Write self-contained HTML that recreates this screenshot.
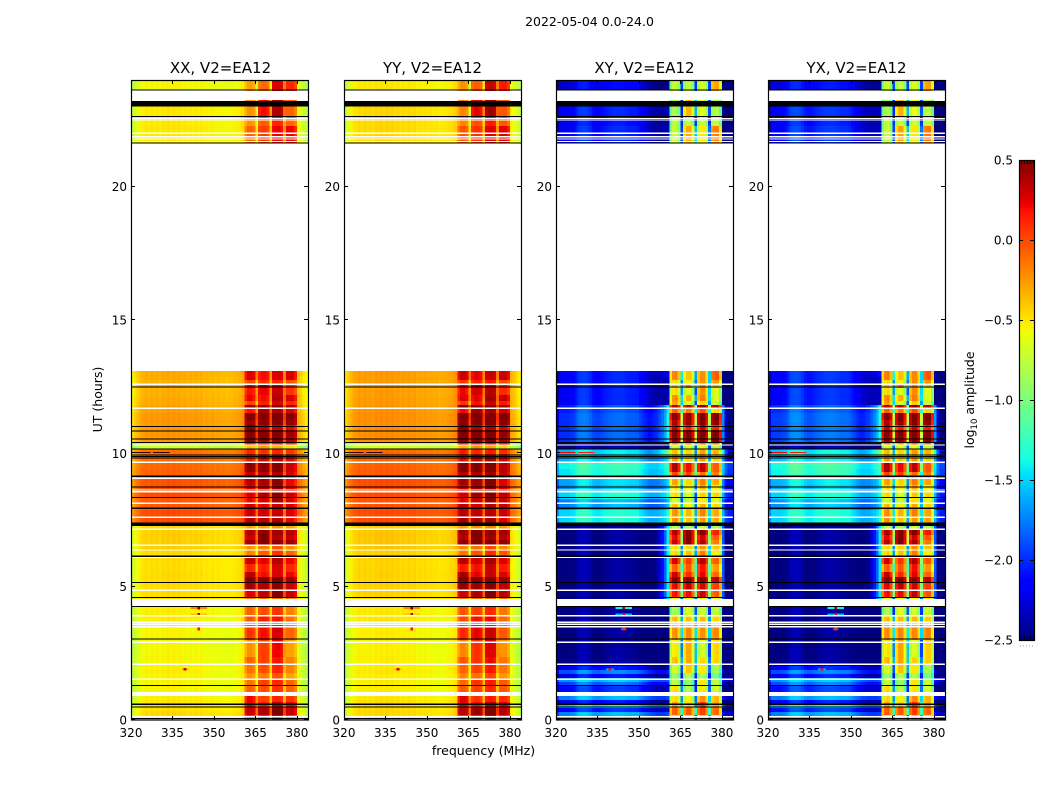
<!DOCTYPE html>
<html>
<head>
<meta charset="utf-8">
<title>2022-05-04 amplitude waterfall</title>
<style>
html,body{margin:0;padding:0;background:#fff;}
svg{display:block;}
text{font-family:"DejaVu Sans","Liberation Sans",sans-serif;fill:#000;}
</style>
</head>
<body>
<svg id="chart" xmlns="http://www.w3.org/2000/svg" width="1050" height="800" viewBox="0 0 1050 800">
  <rect x="0" y="0" width="1050" height="800" fill="#fff"/>
  <text x="589.5" y="26" font-size="12.5" text-anchor="middle">2022-05-04 0.0-24.0</text>
  <text x="220.5" y="73" font-size="15" text-anchor="middle">XX, V2=EA12</text>
  <text x="432.5" y="73" font-size="15" text-anchor="middle">YY, V2=EA12</text>
  <text x="644.5" y="73" font-size="15" text-anchor="middle">XY, V2=EA12</text>
  <text x="856.5" y="73" font-size="15" text-anchor="middle">YX, V2=EA12</text>
  <text transform="translate(102,399.5) rotate(-90)" font-size="12.5" text-anchor="middle">UT (hours)</text>
  <text x="483.5" y="755" font-size="12.5" text-anchor="middle">frequency (MHz)</text>
  <text transform="translate(974,400) rotate(-90)" font-size="12.5" text-anchor="middle">log<tspan font-size="8.5" dy="3">10</tspan><tspan dy="-3"> amplitude</tspan></text>
  <g id="panels"></g>
  <g id="colorbar"></g>
</svg>
<script>
// ---- tick labels ----
const freqTicks = [320, 335, 350, 365, 380];
const utTicks = [0, 5, 10, 15, 20];
const colorbarTicks = [0.5, 0.0, -0.5, -1.0, -1.5, -2.0, -2.5];

// ---- out-of-band time bands (UT hours) ----
const bandStart = [0,.11,.30,.45,.60,.75,.90,1.28,1.43,1.58,1.73,1.88,2.03,2.44,3.00,3.56,4.28,4.88,5.33,5.63,5.89,6.15,6.38,6.71,7.13,7.28,7.88,8.29,8.55,8.81,9.15,9.41,9.68,9.90,10.16,10.39,10.61,11.03,11.14,11.51,11.81,12.19,12.45,12.60,12.86,21.64,22.28,22.61,23.63];
const bandEnd = [.11,.30,.45,.60,.75,.90,1.28,1.43,1.58,1.73,1.88,2.03,2.44,3.00,3.56,4.28,4.88,5.33,5.63,5.89,6.15,6.38,6.71,7.13,7.28,7.88,8.29,8.55,8.81,9.15,9.41,9.68,9.90,10.16,10.39,10.61,11.03,11.14,11.51,11.81,12.19,12.45,12.60,12.86,13.09,22.28,22.61,23.00,24];

// ---- per-band out-of-band log10 amplitude ----
const xxLow = [-.55,-.48,-.5,-.48,-.53,-.55,-.57,-.57,-.56,-.57,-.55,-.56,-.57,-.58,-.57,-.55,-.49,-.49,-.49,-.5,-.5,-.49,-.45,-.45,-.49,-.03,-.07,-.03,-.05,-.05,-.1,-.12,-.14,-.14,-.72,-.27,-.27,-.27,-.27,-.3,-.33,-.35,-.35,-.35,-.33,-.53,-.53,-.53,-.58];
const yyLow = [-.53,-.48,-.48,-.48,-.5,-.53,-.55,-.55,-.54,-.55,-.53,-.54,-.55,-.56,-.55,-.53,-.46,-.46,-.46,-.47,-.47,-.46,-.42,-.42,-.46,-.03,-.05,-.03,-.03,-.03,-.08,-.1,-.12,-.12,-.7,-.24,-.24,-.24,-.24,-.26,-.28,-.29,-.29,-.29,-.28,-.48,-.48,-.48,-.53];
const xyLow = [-2.0,-1.8,-2.2,-1.6,-2.3,-1.8,-2.2,-2.0,-1.75,-2.3,-1.95,-2.3,-2.65,-2.65,-2.65,-2.65,-2.65,-2.65,-2.65,-2.65,-2.65,-2.65,-2.65,-2.65,-2.65,-1.55,-1.8,-1.55,-1.75,-1.7,-1.5,-1.45,-1.65,-1.65,-2.6,-2.05,-2.05,-2.05,-2.05,-2.1,-2.25,-2.25,-2.25,-2.25,-2.25,-2.25,-2.3,-2.25,-2.35];
const yxLow = [-1.95,-1.8,-2.15,-1.6,-2.25,-1.8,-2.15,-1.95,-1.75,-2.25,-1.95,-2.25,-2.65,-2.65,-2.65,-2.65,-2.65,-2.65,-2.65,-2.65,-2.65,-2.65,-2.65,-2.65,-2.65,-1.55,-1.75,-1.55,-1.7,-1.65,-1.45,-1.4,-1.6,-1.6,-2.6,-2.0,-2.0,-2.0,-2.0,-2.05,-2.2,-2.2,-2.2,-2.2,-2.2,-2.2,-2.25,-2.2,-2.3];
const crossEdgeGlow = [0,0,0,0,0,0,0,0,0,0,0,0,0,0,0,0,1.2,1.2,1.2,1.2,1.2,1.2,1.2,1.2,1.2,.3,.3,.3,.3,.3,.3,.3,.3,.7,.2,.7,.7,.7,.7,.7,0,0,0,0,.2,0,0,0,0];

// ---- per-channel out-of-band offsets (1 MHz channels from 320 MHz; null = in-band) ----
const parallelShape = [-.22,-.14,-.08,-.02,0,.03,0,.03,.01,.03,0,.04,.02,.05,.02,.05,.02,.04,.01,.03,0,.02,0,.03,0,.02,-.02,0,-.02,0,-.03,-.01,-.03,-.02,-.04,-.03,-.03,-.01,0,.02,.06,null,null,null,null,null,null,null,null,null,null,null,null,null,null,null,null,null,null,null,-.05,-.1,-.18,-.25];
const crossShape = [-.15,.05,.05,.05,.05,.08,.1,.2,.28,.3,.3,.28,.22,.15,.12,.12,.15,.18,.2,.22,.24,.25,.25,.25,.24,.22,.2,.2,.2,.18,.12,.06,0,-.05,-.1,-.12,-.15,-.15,-.15,-.15,-.1,null,null,null,null,null,null,null,null,null,null,null,null,null,null,null,null,null,null,null,-.3,-.45,-.5,-.5];
const crossEdgeShape = [0,0,0,0,0,0,0,0,0,0,0,0,0,0,0,0,0,0,0,0,0,0,0,0,0,0,0,0,0,0,0,0,0,0,.1,.2,.3,.45,.6,.8,1.1,0,0,0,0,0,0,0,0,0,0,0,0,0,0,0,0,0,0,0,.9,.25,0,0];

// ---- in-band rows (UT hours) with one value per sub-band block ----
const hiStart = [0,.19,.49,.68,1.05,1.28,1.54,1.76,2.06,2.36,3.00,3.49,3.90,4.50,4.61,4.88,5.14,5.36,5.55,5.85,6.11,6.34,6.56,6.75,6.94,7.13,7.39,7.61,7.95,8.14,8.33,8.59,8.81,9.11,9.30,9.68,9.94,10.16,10.31,10.43,10.61,10.88,11.06,11.25,11.51,11.70,11.81,11.96,12.19,12.45,12.60,12.75,21.64,22.28,22.61,23.59];
const hiEnd = [.19,.49,.68,1.05,1.28,1.54,1.76,2.06,2.36,3.00,3.49,3.90,4.50,4.61,4.88,5.14,5.36,5.55,5.85,6.11,6.34,6.56,6.75,6.94,7.13,7.39,7.61,7.95,8.14,8.33,8.59,8.81,9.11,9.30,9.68,9.94,10.16,10.31,10.43,10.61,10.88,11.06,11.25,11.51,11.70,11.81,11.96,12.19,12.45,12.60,12.75,13.09,22.28,22.61,23.25,24];
const parallelBlock1 = [.05,.3,.2,.2,-.1,-.15,-.25,-.15,-.1,-.25,.05,-.05,-.1,-.2,.25,.4,.48,.35,.1,.3,-.2,-.25,.4,.3,.35,-.3,.35,.3,.3,.2,.25,.25,.35,.3,.45,.15,.1,-.4,.1,.48,.48,.48,.42,.48,.15,.42,0,.2,.15,.2,0,.25,-.1,-.25,-.25,-.3];
const parallelBlock2 = [.05,.35,.1,0,-.05,0,-.2,-.05,0,0,.15,.1,-.05,-.2,.3,.35,.48,.15,.1,.2,-.1,-.2,.45,.45,.45,-.3,.3,.25,.2,.25,.35,.3,.35,.3,.42,.2,.05,-.3,.1,.45,.45,.3,.42,.45,.35,.42,.1,.15,.2,.35,.05,.15,0,-.1,.15,-.15];
const parallelBlock3 = [.2,.45,.25,.05,0,.05,-.1,.05,.1,.15,.2,.1,0,-.2,.42,.4,.48,.2,.2,.3,0,-.1,.4,.3,.35,-.3,.3,.25,.25,.35,.42,.35,.4,.3,.42,.25,.05,-.4,.1,.4,.42,.25,.42,.48,.3,.42,.2,.3,.25,.25,.05,.2,.15,.05,.3,.2];
const parallelBlock4 = [.05,.3,.2,.05,-.1,-.1,-.3,-.2,-.2,-.3,-.1,-.15,-.2,-.2,.3,.3,.4,.2,.1,.2,-.1,-.25,.4,.3,.35,-.3,.2,.25,.25,.25,.3,.2,.2,.25,.3,.2,.05,-.5,.1,.35,.4,.2,.42,.48,.25,.35,.1,.25,.05,.1,-.05,.25,.2,-.1,-.1,.1];
const crossBlock1 = [-.7,-.1,-.3,-.5,-.5,-.75,-.9,-.7,-.4,-.55,-.25,-.4,-.85,-.7,.15,.2,.5,.3,-.1,.25,-.5,-.5,.3,.2,.35,-.8,-.25,-.25,-.4,-.7,-.5,-.5,-.3,0,.35,-.3,-.4,-.7,-.2,.45,.48,.3,.35,.48,-.1,.35,-.3,-.25,-.5,-.4,-.5,-.2,-.75,-.8,-.85,-.75];
const crossBlock2 = [-.7,-.1,-.5,-.6,-.85,-.95,-.85,-.45,-.35,-.35,-.25,-.45,-.7,-.7,.15,.3,.5,.05,-.1,0,-.45,-.5,.45,.45,.45,-.9,-.45,-.4,-.6,-.8,-.7,-.6,-.5,0,.15,-.5,-.5,-.7,-.3,.45,.48,.1,.4,.42,-.2,.3,-.7,-.4,-.7,-.2,-.6,-.45,-.35,-.8,-.4,-.8];
const crossBlock3 = [-.5,-.05,0,-.3,-.6,-.6,-.9,-.6,-.55,-.75,-.3,-.45,-.8,-.7,.25,.2,.45,.15,.1,.3,-.25,-.3,.3,.2,.4,-.8,-.35,-.25,-.4,-.6,-.5,-.4,-.25,-.2,.25,-.35,-.35,-.7,-.2,.45,.48,.2,.4,.42,-.1,.45,-.5,-.25,-.3,-.3,-.3,-.3,-.6,-.8,-.7,-.75];
const crossBlock4 = [-.7,-.15,-.35,-.4,-.75,-.8,-1.1,-.9,-.5,-.5,-.25,-.5,-.8,-.7,-.1,0,.3,-.15,-.3,-.1,-.6,-.45,-.2,-.1,.1,-.9,-.35,-.35,-.5,-.7,-.5,-.6,-.35,-.2,-.1,-.5,-.4,-.8,-.2,.48,.48,.1,.4,.45,-.5,.3,-.8,-.7,-.7,-.45,-.3,-.1,-.2,-.8,-.85,-.35];

// ---- per-channel in-band rim and inter-block offsets, channels 41..59 ----
const parallelChannelOffset = [-.08,.03,.03,-.03,-.42,0,.05,.05,0,-.4,.05,.08,.08,.03,-.4,.02,.02,.02,-.08];
const crossChannelOffset = [-.3,0,.05,-.2,-1.2,-.15,.05,.05,-.25,-1.2,-.1,.08,.08,-.2,-1.2,-.05,.05,.05,-.3];
const panelHighBias = [0, .04, 0, .02];

// ---- flagged / missing intervals (UT hours) ----
const gapStart = [.10,.90,1.50,2.06,2.89,3.47,3.57,3.64,3.89,4.28,4.84,6.08,6.35,6.53,7.13,7.58,8.10,8.53,8.60,9.04,9.64,10.29,11.67,12.56,13.09,21.67,21.76,21.85,21.98,22.48,22.54,23.25];
const gapEnd = [.15,1.05,1.55,2.11,2.94,3.52,3.61,3.69,3.94,4.53,4.89,6.13,6.40,6.58,7.18,7.63,8.15,8.58,8.65,9.09,9.69,10.34,11.72,12.61,21.64,21.71,21.80,21.90,22.03,22.52,22.58,23.59];
const blackStart = [.03,.46,.57,1.28,3.01,4.24,4.58,5.14,6.12,7.28,7.92,8.33,8.71,9.12,9.81,9.87,9.92,10.14,10.39,10.51,10.81,10.99,12.46,21.62,22.61,23.00,23.61];
const blackEnd = [.07,.50,.61,1.32,3.05,4.28,4.62,5.18,6.16,7.40,7.96,8.37,8.75,9.16,9.85,9.90,9.96,10.18,10.43,10.55,10.85,11.03,12.50,21.66,22.65,23.22,23.65];

// ---- narrow-band interference ----
const spotFreq = [344.5, 344.5, 344.5, 339.5];
const spotUT = [4.20, 3.96, 3.41, 1.90];
const spotHalfWidth = [3, 3, 1, 1.5];
const spotPeak = [.5, .3, .2, .3];
const dashStart = [321.5, 328];
const dashEnd = [327, 334];
const dashUT = [10.03, 10.03];
const dashValue = [.5, .45];

// ---- panels ----
const panelKeys = ['xx', 'yy', 'xy', 'yx'];
const panelLow = [xxLow, yyLow, xyLow, yxLow];
const panelCross = [false, false, true, true];
const parallelBlocks = [parallelBlock1, parallelBlock2, parallelBlock3, parallelBlock4];
const crossBlocks = [crossBlock1, crossBlock2, crossBlock3, crossBlock4];

const NS = 'http://www.w3.org/2000/svg';
const VMIN = -2.5, VMAX = 0.5;
const AXIS_TOP = 80, AXIS_BOTTOM = 720, AXIS_WIDTH = 177;
const AXIS_LEFT = [131, 344, 556, 768];
const F_MIN = 320, F_MAX = 384, UT_MAX = 24;
const FIRST_BLOCK_CH = 41, LAST_BLOCK_CH = 59;
const CB_LEFT = 1019, CB_RIGHT = 1034, CB_TOP = 160, CB_BOTTOM = 640;

function interp(x, xs, ys) {
  if (x <= xs[0]) return ys[0];
  for (let i = 1; i < xs.length; i++) {
    if (x <= xs[i]) return ys[i-1] + (ys[i]-ys[i-1]) * (x-xs[i-1]) / (xs[i]-xs[i-1]);
  }
  return ys[ys.length-1];
}
function jet(v) {
  const t = Math.max(0, Math.min(1, (v - VMIN) / (VMAX - VMIN)));
  const r = interp(t, [0,.35,.66,.89,1], [0,0,1,1,.5]);
  const g = interp(t, [0,.125,.375,.64,.91,1], [0,0,1,1,0,0]);
  const b = interp(t, [0,.11,.34,.65,1], [.5,1,1,0,0]);
  return 'rgb(' + Math.round(r*255) + ',' + Math.round(g*255) + ',' + Math.round(b*255) + ')';
}
function xScale(panel, mhz) { return AXIS_LEFT[panel] + (mhz - F_MIN) / (F_MAX - F_MIN) * AXIS_WIDTH; }
function yScale(ut) { return AXIS_BOTTOM - ut / UT_MAX * (AXIS_BOTTOM - AXIS_TOP); }
function cbScale(v) { return CB_BOTTOM - (v - VMIN) / (VMAX - VMIN) * (CB_BOTTOM - CB_TOP); }

function make(tag, parent, attrs) {
  const el = document.createElementNS(NS, tag);
  for (const k in attrs) el.setAttribute(k, attrs[k]);
  parent.appendChild(el);
  return el;
}
function box(parent, x0, x1, y0, y1, fill) {
  return make('rect', parent, {x: x0, y: Math.min(y0, y1), width: x1 - x0, height: Math.max(Math.abs(y1 - y0), 1), fill: fill, 'shape-rendering': 'crispEdges'});
}
function lowValue(p, b, ch) {
  const shape = panelCross[p] ? crossShape : parallelShape;
  let v = panelLow[p][b] + shape[ch];
  if (panelCross[p]) v += crossEdgeGlow[b] * crossEdgeShape[ch];
  return v;
}
function highValue(p, r, ch) {
  const k = ch - FIRST_BLOCK_CH;
  const blocks = panelCross[p] ? crossBlocks : parallelBlocks;
  const offsets = panelCross[p] ? crossChannelOffset : parallelChannelOffset;
  return blocks[Math.floor(k / 5)][r] + offsets[k] + panelHighBias[p];
}

const panelsRoot = document.getElementById('panels');
panelKeys.forEach(function (key, p) {
  const g = make('g', panelsRoot, {});
  
  

  const bg = box(g, AXIS_LEFT[p], AXIS_LEFT[p] + AXIS_WIDTH, AXIS_TOP, AXIS_BOTTOM, '#fff');
  
  

  const shape = panelCross[p] ? crossShape : parallelShape;
  bandStart.forEach(function (ut0, b) {
    for (let ch = 0; ch < F_MAX - F_MIN; ch++) {
      if (shape[ch] === null) continue;
      const cell = box(g, xScale(p, F_MIN + ch), xScale(p, F_MIN + ch + 1), yScale(bandEnd[b]), yScale(ut0), jet(lowValue(p, b, ch)));
      
      
    }
  });
  hiStart.forEach(function (ut0, r) {
    for (let ch = FIRST_BLOCK_CH; ch <= LAST_BLOCK_CH; ch++) {
      const cell = box(g, xScale(p, F_MIN + ch), xScale(p, F_MIN + ch + 1), yScale(hiEnd[r]), yScale(ut0), jet(highValue(p, r, ch)));
      
      
    }
  });

  spotFreq.forEach(function (f, i) {
    const flankLevel = spotPeak[i] - (panelCross[p] ? 1.9 : 0.7);
    const flank = box(g, xScale(p, f - spotHalfWidth[i]), xScale(p, f + spotHalfWidth[i]), yScale(spotUT[i] + .03), yScale(spotUT[i] - .03), jet(flankLevel));
    
    
    const peak = box(g, xScale(p, f - .5), xScale(p, f + .5), yScale(spotUT[i] + .05), yScale(spotUT[i] - .05), jet(panelCross[p] ? spotPeak[i] - .1 : spotPeak[i]));
    
    
  });
  dashStart.forEach(function (f, i) {
    const dash = box(g, xScale(p, f), xScale(p, dashEnd[i]), yScale(dashUT[i] + .02), yScale(dashUT[i] - .02), panelCross[p] ? jet(dashValue[i] - .3) : '#300');
    
    
  });

  gapStart.forEach(function (ut0, i) {
    const gap = box(g, xScale(p, F_MIN), xScale(p, F_MAX), yScale(gapEnd[i]), yScale(ut0), '#fff');
    
    
  });
  blackStart.forEach(function (ut0, i) {
    const line = box(g, xScale(p, F_MIN), xScale(p, F_MAX), yScale(blackEnd[i]), yScale(ut0), '#000');
    
    
  });

  freqTicks.forEach(function (f) {
    const x = Math.round(xScale(p, f)) + .5;
    const tickB = make('line', g, {x1: x, x2: x, y1: AXIS_BOTTOM, y2: AXIS_BOTTOM - 4, stroke: '#000'});
    
    
    const tickT = make('line', g, {x1: x, x2: x, y1: AXIS_TOP, y2: AXIS_TOP + 4, stroke: '#000'});
    
    
    const label = make('text', g, {x: xScale(p, f), y: 737, 'font-size': 12, 'text-anchor': 'middle'});
    
    
    label.textContent = String(f);
  });
  utTicks.forEach(function (u) {
    const y = Math.round(yScale(u)) - .5;
    const left = AXIS_LEFT[p], right = AXIS_LEFT[p] + AXIS_WIDTH;
    const tickL = make('line', g, {x1: left, x2: left + 4, y1: y, y2: y, stroke: '#000'});
    
    
    const tickR = make('line', g, {x1: right, x2: right - 4, y1: y, y2: y, stroke: '#000'});
    
    
    const label = make('text', g, {x: left - 4, y: yScale(u) + 4.5, 'font-size': 12, 'text-anchor': 'end'});
    
    
    label.textContent = String(u);
  });

  const frame = make('rect', g, {x: AXIS_LEFT[p] + .5, y: AXIS_TOP + .5, width: AXIS_WIDTH, height: AXIS_BOTTOM - AXIS_TOP - .5, fill: 'none', stroke: '#000', 'stroke-width': 1.2});
  
  
});

// ---- colorbar ----
const cbRoot = document.getElementById('colorbar');
for (let y = CB_TOP; y < CB_BOTTOM; y += 2) {
  const value = VMAX - (y - CB_TOP + 1) / (CB_BOTTOM - CB_TOP) * (VMAX - VMIN);
  const swatch = box(cbRoot, CB_LEFT, CB_RIGHT, y, y + 2, jet(value));
  
  
}
colorbarTicks.forEach(function (v) {
  const y = Math.round(cbScale(v)) + .5;
  const tickL = make('line', cbRoot, {x1: CB_LEFT, x2: CB_LEFT + 4, y1: y, y2: y, stroke: '#000'});
  
  
  const tickR = make('line', cbRoot, {x1: CB_RIGHT, x2: CB_RIGHT - 4, y1: y, y2: y, stroke: '#000'});
  
  
  const label = make('text', cbRoot, {x: 1013, y: cbScale(v) + 4.5, 'font-size': 12, 'text-anchor': 'end'});
  
  
  label.textContent = v.toFixed(1).replace('-', '\u2212');
});
for (let x = CB_LEFT + 2; x < CB_RIGHT; x += 3) {
  [CB_TOP, CB_BOTTOM - 4].forEach(function (y) {
    const minor = make('line', cbRoot, {x1: x + .5, x2: x + .5, y1: y, y2: y + 4, stroke: '#000', 'stroke-width': .8});
    
    
  });
  const dot = make('rect', cbRoot, {x: x - 1, y: 645.5, width: 1, height: 1, fill: '#999'});
  
  
}
const cbFrame = make('rect', cbRoot, {x: CB_LEFT + .5, y: CB_TOP + .5, width: CB_RIGHT - CB_LEFT, height: CB_BOTTOM - CB_TOP, fill: 'none', stroke: '#000', 'stroke-width': 1.2});


</script>
</body>
</html>
